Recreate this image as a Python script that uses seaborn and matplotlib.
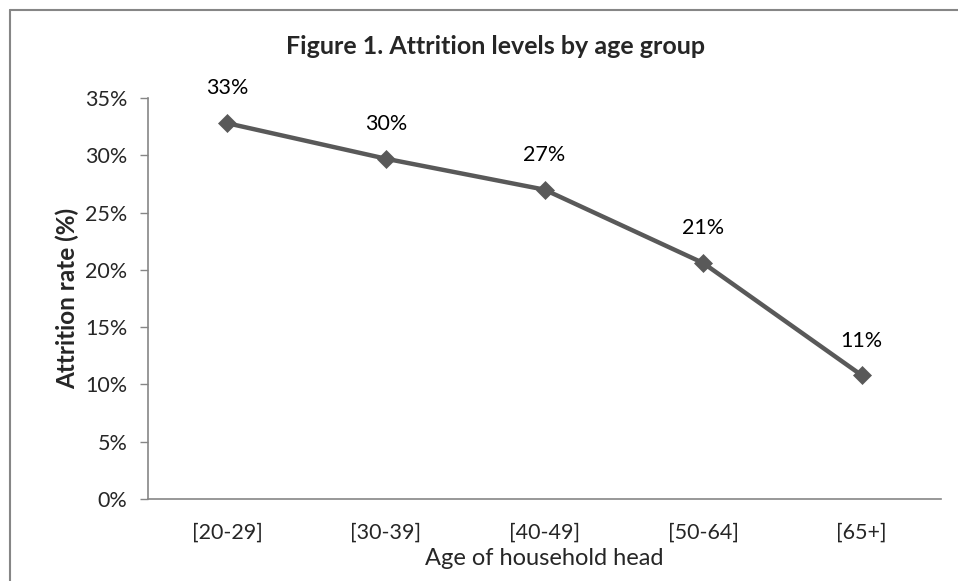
import pandas as pd
import matplotlib.pyplot as plt
import matplotlib.ticker as mtick
from matplotlib.lines import Line2D
import seaborn as sns

# data
age_groups = ['[20-29]', '[30-39]', '[40-49]', '[50-64]', '[65+]']
attrition = [0.328, 0.297, 0.270, 0.206, 0.108]
point_labels = ['33%', '30%', '27%', '21%', '11%']

df = pd.DataFrame({'age': age_groups, 'rate': attrition})

sns.set_style("white")
plt.rcParams['font.family'] = ['Lato', 'DejaVu Sans']

fig = plt.figure(figsize=(9.58, 5.81), dpi=100)
ax = fig.add_axes([148 / 958, 1 - 499 / 581, (941 - 148) / 958, (499 - 98) / 581])

line_col = '#595959'
axis_col = '#868686'

sns.lineplot(data=df, x='age', y='rate', ax=ax, color=line_col, linewidth=3.2,
             marker='D', markersize=9, markeredgecolor=line_col, markeredgewidth=0.5,
             sort=False)

# data labels above each point
for i, (v, lab) in enumerate(zip(attrition, point_labels)):
    ax.annotate(lab, (i, v), xytext=(0, 25), textcoords='offset points',
                ha='center', va='center', fontsize=15.5, color='black')

ax.set_xlim(-0.5, 4.5)
ax.set_ylim(0, 0.35)
ax.yaxis.set_major_locator(mtick.MultipleLocator(0.05))
ax.yaxis.set_major_formatter(mtick.PercentFormatter(1.0, decimals=0))

# ticks between categories on x, like Excel
ax.set_xticks(range(len(age_groups)))
ax.set_xticklabels(age_groups)
ax.set_xticks([i - 0.5 for i in range(len(age_groups) + 1)], minor=True)
ax.tick_params(axis='x', which='major', length=0, pad=17, labelsize=15.5)
ax.tick_params(axis='x', which='minor', length=5, width=1, color=axis_col, direction='out')
ax.tick_params(axis='y', which='major', length=6, width=1, color=axis_col,
               direction='out', pad=9, labelsize=15.5, left=True)

for s in ['top', 'right']:
    ax.spines[s].set_visible(False)
for s in ['left', 'bottom']:
    ax.spines[s].set_color(axis_col)
    ax.spines[s].set_linewidth(1.2)

ax.set_xlabel('Age of household head', fontsize=17, labelpad=4)
ax.set_ylabel('Attrition rate (%)', fontsize=17.5, fontweight='bold', labelpad=4)
fig.text(495 / 958, 1 - 47 / 581, 'Figure 1. Attrition levels by age group',
         ha='center', va='center', fontsize=18, fontweight='bold')

# chart area border (only left and top are inside the picture)
x0, y0 = 9.5 / 958, 1 - 9.5 / 581
fig.add_artist(Line2D([x0, x0], [0, y0], transform=fig.transFigure,
                      color='#868686', linewidth=1.5))
fig.add_artist(Line2D([x0, 1], [y0, y0], transform=fig.transFigure,
                      color='#868686', linewidth=1.5))

fig.savefig('out.png', dpi=100, facecolor='white')
